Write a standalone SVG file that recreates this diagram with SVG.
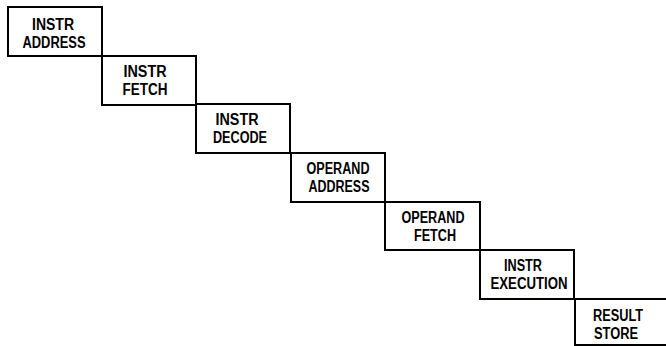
<svg xmlns="http://www.w3.org/2000/svg" width="666" height="346" viewBox="0 0 666 346">
<style>
.box{fill:none;stroke:#000;stroke-width:2}
text{font-family:"Liberation Sans",Arial,sans-serif;font-size:16px;font-weight:bold;text-anchor:middle;fill:#000}
</style>
<rect width="666" height="346" fill="#fff"/>
<g id="n1"><rect class="box" x="8" y="7" width="94" height="49"/>
<text x="53" y="30" textLength="42" lengthAdjust="spacingAndGlyphs">INSTR</text>
<text x="54" y="48" textLength="63" lengthAdjust="spacingAndGlyphs">ADDRESS</text></g>
<g id="n2"><rect class="box" x="102" y="56" width="94" height="49"/>
<text x="145" y="77" textLength="43" lengthAdjust="spacingAndGlyphs">INSTR</text>
<text x="145" y="95" textLength="45" lengthAdjust="spacingAndGlyphs">FETCH</text></g>
<g id="n3"><rect class="box" x="196" y="104" width="94" height="49"/>
<text x="237" y="125" textLength="43" lengthAdjust="spacingAndGlyphs">INSTR</text>
<text x="240" y="143" textLength="54" lengthAdjust="spacingAndGlyphs">DECODE</text></g>
<g id="n4"><rect class="box" x="291" y="153" width="94" height="49"/>
<text x="338" y="174" textLength="63" lengthAdjust="spacingAndGlyphs">OPERAND</text>
<text x="339" y="192" textLength="61" lengthAdjust="spacingAndGlyphs">ADDRESS</text></g>
<g id="n5"><rect class="box" x="385" y="202" width="95" height="48"/>
<text x="433" y="223" textLength="63" lengthAdjust="spacingAndGlyphs">OPERAND</text>
<text x="435" y="241" textLength="42" lengthAdjust="spacingAndGlyphs">FETCH</text></g>
<g id="n6"><rect class="box" x="480" y="250" width="94" height="49"/>
<text x="523" y="271" textLength="38" lengthAdjust="spacingAndGlyphs">INSTR</text>
<text x="529" y="289" textLength="77" lengthAdjust="spacingAndGlyphs">EXECUTION</text></g>
<g id="n7"><path class="box" d="M668 299 H575 V345 H668"/>
<text x="618" y="321" textLength="50" lengthAdjust="spacingAndGlyphs">RESULT</text>
<text x="616" y="339" textLength="44" lengthAdjust="spacingAndGlyphs">STORE</text></g>
<g id="connectors"></g>
</svg>
